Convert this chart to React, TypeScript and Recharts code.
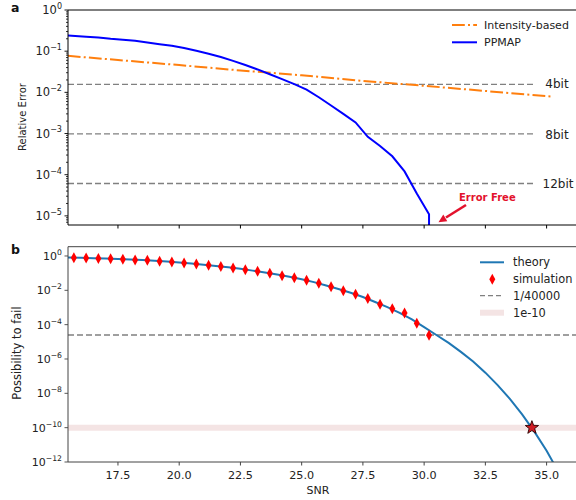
import React from "react";
import { ComposedChart, Line, Scatter, XAxis, YAxis, ReferenceLine } from "recharts";

// shared x ticks
const SNR_TICKS = [17.5, 20, 22.5, 25, 27.5, 30, 32.5, 35];

// panel a
const ERR_MAJOR = [1, 1e-1, 1e-2, 1e-3, 1e-4, 1e-5];
const intensitySnr = [15.45, 17.5, 20, 22.5, 25, 27.5, 30, 32.5, 35.2];
const intensityErr = [0.077, 0.061, 0.046, 0.034, 0.026, 0.019, 0.0144, 0.0108, 0.0079];

const ppmapSnr = [
  15.45, 16.2, 16.7, 17.2, 17.7, 18.2, 18.7, 19.2, 19.7, 20.2, 20.7, 21.2, 21.7, 22.2, 22.7,
  23.2, 23.7, 24.2, 24.7, 25.2, 25.7, 26.2, 26.7, 27.2, 27.7, 28.2, 28.7, 29.2, 29.7, 30.2, 30.2,
];
const ppmapErr = [
  0.24, 0.224, 0.214, 0.2, 0.19, 0.178, 0.162, 0.148, 0.135, 0.12, 0.102, 0.087, 0.072, 0.058, 0.046,
  0.036, 0.0275, 0.021, 0.0158, 0.0117, 0.0076, 0.0048, 0.003, 0.00186, 0.00083, 0.0005, 0.00028,
  0.00012, 3.5e-5, 1.1e-5, 1e-7,
];

const bitNames = ["4bit", "8bit", "12bit"];
const bitLevels = [1 / 64, 1 / 1024, 1 / 16384];

// panel b
const FAIL_TICKS = [1, 1e-2, 1e-4, 1e-6, 1e-8, 1e-10, 1e-12];
const theorySnr = [
  15.45, 16, 16.5, 17, 17.5, 18, 18.5, 19, 19.5, 20, 20.5, 21, 21.5, 22, 22.5, 23, 23.5, 24, 24.5,
  25, 25.5, 26, 26.5, 27, 27.5, 28, 28.5, 29, 29.5, 30, 30.5, 31, 31.5, 32, 32.5, 33, 33.5, 34,
  34.5, 35, 35.5,
];
const theoryP = [
  0.81, 0.78, 0.74, 0.71, 0.66, 0.62, 0.58, 0.52, 0.47, 0.42, 0.36, 0.31, 0.26, 0.22, 0.18, 0.14,
  0.11, 0.083, 0.062, 0.044, 0.03, 0.019, 0.012, 7.2e-3, 4.1e-3, 2.1e-3, 1.05e-3, 4.9e-4, 2.0e-4,
  7.2e-5, 2.5e-5, 8.7e-6, 2.6e-6, 7.1e-7, 1.6e-7, 3.0e-8, 4.7e-9, 6.0e-10, 5.9e-11, 4.5e-12, 2.4e-13,
];

const simSnr = [
  15.7, 16.2, 16.7, 17.2, 17.7, 18.2, 18.7, 19.2, 19.7, 20.2, 20.7, 21.2, 21.7, 22.2, 22.7,
  23.2, 23.7, 24.2, 24.7, 25.2, 25.7, 26.2, 26.7, 27.2, 27.7, 28.2, 28.7, 29.2, 29.7, 30.2,
];
const simP = [
  0.79, 0.76, 0.72, 0.69, 0.65, 0.59, 0.56, 0.49, 0.45, 0.39, 0.34, 0.29, 0.24, 0.2, 0.16,
  0.13, 0.098, 0.071, 0.054, 0.038, 0.026, 0.016, 9.5e-3, 5.9e-3, 3.3e-3, 1.55e-3, 8.5e-4,
  4.8e-4, 1.2e-4, 2.4e-5,
];

const starSnr = [34.4];
const starP = [1e-10];

const ONE_IN = 1 / 40000;
const TARGET = 1e-10;

const pairs = (xs: number[], ys: number[]) => xs.map((snr, i) => ({ snr, y: ys[i] }));

const intensityData = pairs(intensitySnr, intensityErr);
const ppmapData = pairs(ppmapSnr, ppmapErr);
const theoryData = pairs(theorySnr, theoryP);
const simData = pairs(simSnr, simP);
const starData = pairs(starSnr, starP);

const errMinor = [-1, -2, -3, -4, -5, -6]
  .flatMap((e) => [2, 3, 4, 5, 6, 7, 8, 9].map((k) => k * Math.pow(10, e)))
  .filter((v) => v > 6.2e-6 && v < 1);
const ERR_TICKS = [...ERR_MAJOR, ...errMinor];

const X_DOMAIN = [15.46, 36.2];
const FONT = "DejaVu Sans";
const TEXT = "#222";

function expLabel(v: number) {
  const e = Math.round(Math.log10(v));
  return e === 0 ? "0" : "\u2212" + String(-e);
}

function LogTick(props: any) {
  const { x, y, payload, color, fontSize } = props;
  const v = payload.value;
  const lg = Math.log10(v);
  const major = Math.abs(lg - Math.round(lg)) < 1e-6;
  if (!major) {
    return <line x1={x} x2={x - 2} y1={y} y2={y} stroke={color} strokeWidth={0.8} />;
  }
  return (
    <g>
      <line x1={x} x2={x - 3.5} y1={y} y2={y} stroke={color} strokeWidth={0.9} />
      <text x={x - 6} y={y} dy={fontSize * 0.36} textAnchor="end" fontSize={fontSize} fill={TEXT}>
        10
        <tspan dy={-fontSize * 0.45} fontSize={fontSize * 0.7}>
          {expLabel(v)}
        </tspan>
      </text>
    </g>
  );
}

function SnrTick(props: any) {
  const { x, y, payload } = props;
  return (
    <text x={x} y={y} dy={13.5} textAnchor="middle" fontSize={11.2} fill={TEXT}>
      {payload.value.toFixed(1)}
    </text>
  );
}

const diamond = (props: any) => {
  const { cx, cy } = props;
  return (
    <polygon
      points={`${cx},${cy - 5.5} ${cx + 3},${cy} ${cx},${cy + 5.5} ${cx - 3},${cy}`}
      fill="#ff0000"
    />
  );
};

const star = (props: any) => {
  const { cx, cy } = props;
  const pts: string[] = [];
  for (let i = 0; i < 10; i++) {
    const r = i % 2 === 0 ? 7 : 2.9;
    const a = -Math.PI / 2 + (i * Math.PI) / 5;
    pts.push(`${cx + r * Math.cos(a)},${cy + r * Math.sin(a)}`);
  }
  return <polygon points={pts.join(" ")} fill="#d01c24" stroke="#2a0000" strokeWidth={0.9} />;
};

function Annotations() {
  return (
    <svg
      width={576}
      height={500}
      style={{ position: "absolute", left: 0, top: 0, pointerEvents: "none" }}
      fontFamily={FONT}
    >
      <text x={11} y={12} fontSize={12.5} fontWeight="bold" fill="#111">a</text>
      <text x={11} y={254} fontSize={12.5} fontWeight="bold" fill="#111">b</text>

      <text transform="translate(22,117) rotate(-90)" dy={3.6} textAnchor="middle" fontSize={10} fill={TEXT}>
        Relative Error
      </text>
      <text transform="translate(17,353) rotate(-90)" dy={4} textAnchor="middle" fontSize={11.5} fill={TEXT}>
        Possibility to fail
      </text>
      <text x={318} y={494} textAnchor="middle" fontSize={11} fill={TEXT}>SNR</text>

      {/* bit labels */}
      <text x={557} y={88} textAnchor="middle" fontSize={12} fill={TEXT}>{bitNames[0]}</text>
      <text x={557} y={138.5} textAnchor="middle" fontSize={12} fill={TEXT}>{bitNames[1]}</text>
      <text x={558} y={188} textAnchor="middle" fontSize={12} fill={TEXT}>{bitNames[2]}</text>

      {/* error free callout */}
      <text x={459} y={201} fontSize={10} fontWeight="bold" fill="#e3122d">Error Free</text>
      <line x1={466} y1={205} x2={446} y2={217.5} stroke="#e3122d" strokeWidth={2.6} />
      <polygon points="447.3,221.2 443.3,214.6 438.5,222.2" fill="#e3122d" />

      {/* legend a */}
      <line x1={452} x2={477} y1={25} y2={25} stroke="#ff7f0e" strokeWidth={2} strokeDasharray="12.8 3.2 2 3.2" />
      <text x={484} y={29} fontSize={11} fill={TEXT}>Intensity-based</text>
      <line x1={452} x2={477} y1={42.3} y2={42.3} stroke="#0000ff" strokeWidth={2} />
      <text x={484} y={46.3} fontSize={11} fill={TEXT}>PPMAP</text>

      {/* legend b */}
      <line x1={480} x2={504} y1={262.3} y2={262.3} stroke="#1f77b4" strokeWidth={2} />
      <text x={513} y={266.3} fontSize={11.4} fill={TEXT}>theory</text>
      <polygon points="492.3,273.8 495.3,279.3 492.3,284.8 489.3,279.3" fill="#ff0000" />
      <text x={513} y={283.3} fontSize={11.4} fill={TEXT}>simulation</text>
      <line x1={480} x2={504} y1={295.7} y2={295.7} stroke="#808080" strokeWidth={1.3} strokeDasharray="5 3" />
      <text x={513} y={299.7} fontSize={11.4} fill={TEXT}>1/40000</text>
      <line x1={480} x2={504} y1={312.7} y2={312.7} stroke="#f4e4e4" strokeWidth={6} />
      <text x={513} y={316.7} fontSize={11.4} fill={TEXT}>1e-10</text>
    </svg>
  );
}

export default function App() {
  return (
    <div
      style={{
        position: "absolute",
        left: 0,
        top: 0,
        width: 576,
        height: 500,
        overflow: "hidden",
        background: "#fff",
        fontFamily: FONT,
      }}
    >
      <div style={{ position: "absolute", left: 0, top: 0 }}>
        <ComposedChart width={576} height={240} margin={{ top: 10, right: 0, bottom: 0, left: 0 }}>
          <XAxis
            type="number"
            dataKey="snr"
            domain={X_DOMAIN}
            allowDataOverflow
            ticks={SNR_TICKS}
            interval={0}
            tickFormatter={() => ""}
            height={15}
            tickSize={3.5}
            axisLine={{ stroke: "#000" }}
            tickLine={{ stroke: "#000" }}
          />
          <YAxis
            scale="log"
            type="number"
            domain={[6.0e-6, 1]}
            allowDataOverflow
            ticks={ERR_TICKS}
            interval={0}
            width={68}
            tickSize={0}
            tickMargin={0}
            tickLine={false}
            axisLine={{ stroke: "#000" }}
            tick={<LogTick color="#000" fontSize={11.5} />}
          />
          <ReferenceLine y={1} stroke="#000" ifOverflow="visible" />
          {bitLevels.map((lvl, i) => (
            <Line
              key={bitNames[i]}
              data={[
                { snr: 15.46, y: lvl },
                { snr: 34.45, y: lvl },
              ]}
              dataKey="y"
              stroke="#808080"
              strokeWidth={1.3}
              strokeDasharray="6 3"
              dot={false}
              isAnimationActive={false}
            />
          ))}
          <Line
            data={intensityData}
            dataKey="y"
            stroke="#ff7f0e"
            strokeWidth={2}
            strokeDasharray="12.8 3.2 2 3.2"
            dot={false}
            isAnimationActive={false}
          />
          <Line
            data={ppmapData}
            dataKey="y"
            stroke="#0000ff"
            strokeWidth={2}
            dot={false}
            isAnimationActive={false}
          />
        </ComposedChart>
      </div>

      <div style={{ position: "absolute", left: 0, top: 236 }}>
        <ComposedChart width={576} height={264} margin={{ top: 10.7, right: 0, bottom: 0, left: 0 }}>
          <XAxis
            type="number"
            dataKey="snr"
            domain={X_DOMAIN}
            allowDataOverflow
            ticks={SNR_TICKS}
            interval={0}
            height={38}
            tickSize={3.5}
            tickMargin={0}
            axisLine={{ stroke: "#444" }}
            tickLine={{ stroke: "#444" }}
            tick={<SnrTick />}
          />
          <YAxis
            scale="log"
            type="number"
            domain={[1e-12, 3.47]}
            allowDataOverflow
            ticks={FAIL_TICKS}
            interval={0}
            width={68}
            tickSize={0}
            tickMargin={0}
            tickLine={false}
            axisLine={{ stroke: "#444" }}
            tick={<LogTick color="#444" fontSize={11} />}
          />
          <ReferenceLine y={3.47} stroke="#444" ifOverflow="visible" />
          <ReferenceLine y={TARGET} stroke="#f4e4e4" strokeWidth={6} />
          <ReferenceLine y={ONE_IN} stroke="#808080" strokeWidth={1.3} strokeDasharray="6 3" />
          <Line
            data={theoryData}
            dataKey="y"
            stroke="#1f77b4"
            strokeWidth={2}
            dot={false}
            isAnimationActive={false}
          />
          <Scatter data={simData} dataKey="y" shape={diamond} isAnimationActive={false} />
          <Scatter data={starData} dataKey="y" shape={star} isAnimationActive={false} />
        </ComposedChart>
      </div>

      <Annotations />
    </div>
  );
}
